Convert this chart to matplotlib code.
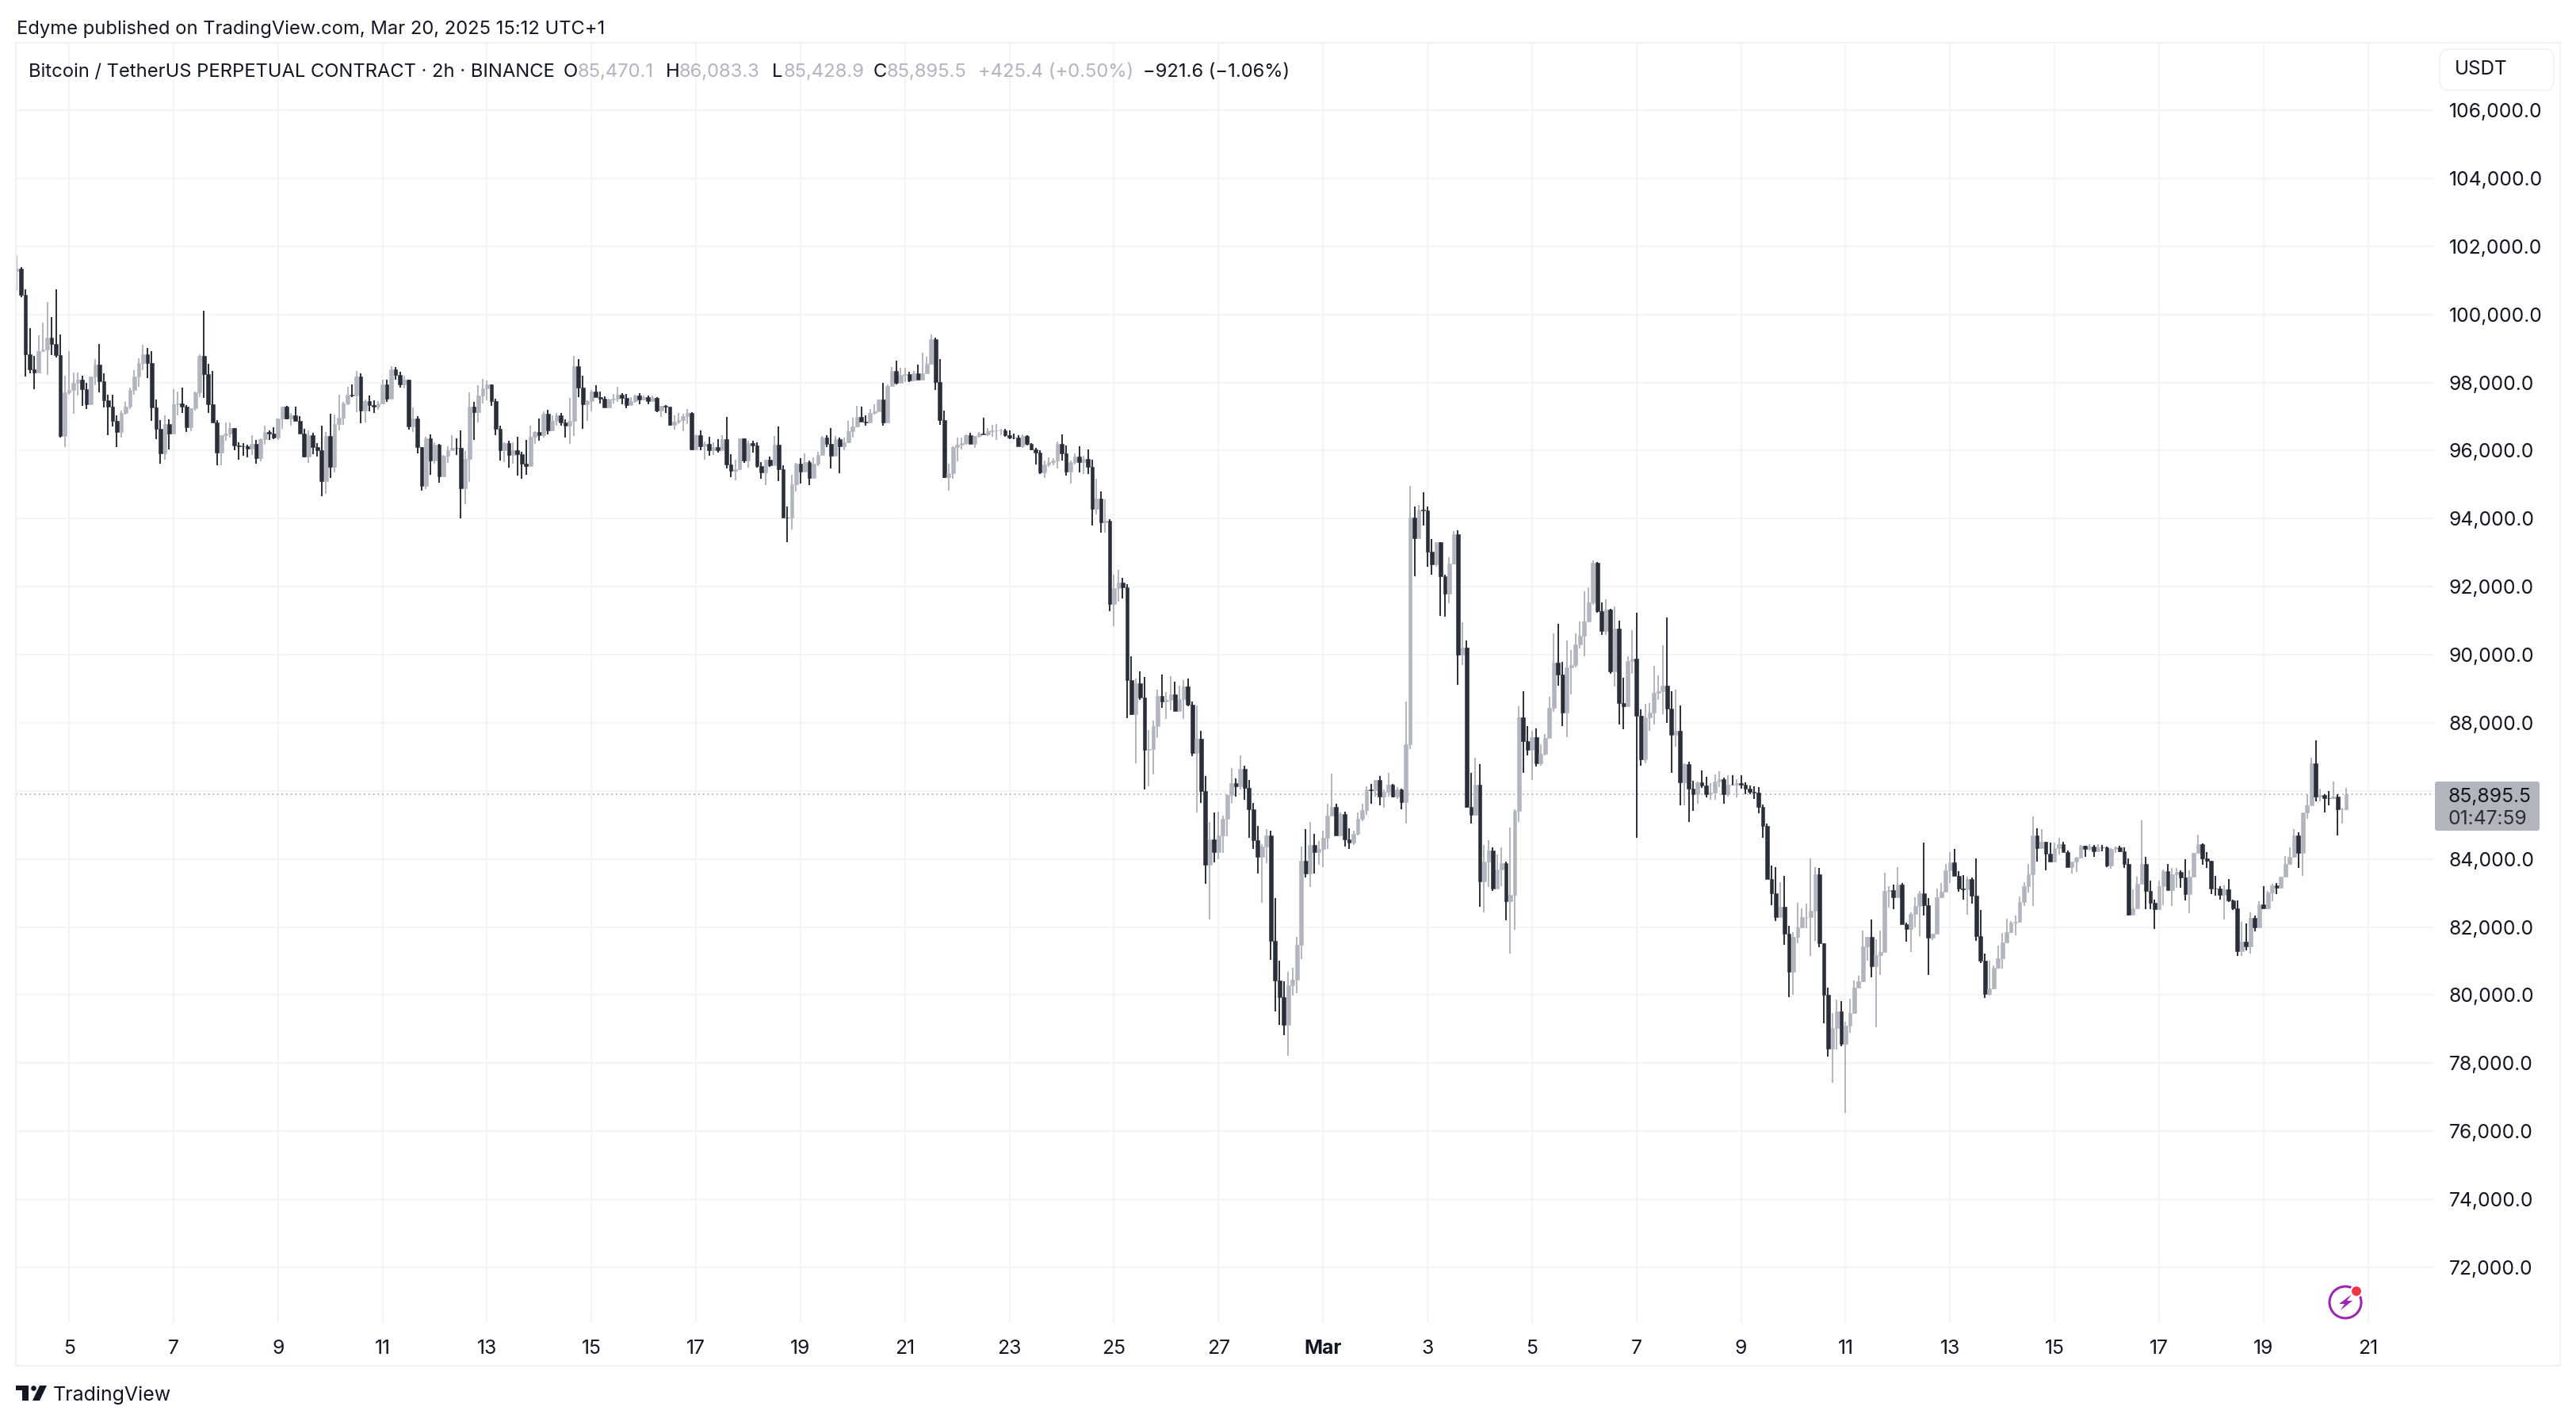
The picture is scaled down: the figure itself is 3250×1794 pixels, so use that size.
import numpy as np
import matplotlib
matplotlib.use('Agg')
import matplotlib.pyplot as plt
from matplotlib.patches import Rectangle, FancyBboxPatch, Circle, Polygon

plt.rcParams['font.family'] = ['Inter', 'DejaVu Sans']

# 2h candles, prices in thousands of USDT. Each open is the previous close.
first_open = 101.28
closes = [
    101.34,100.58,98.82,98.39,98.30,98.92,98.97,99.32,99.13,98.80,
    96.43,97.70,97.79,97.98,98.09,97.80,97.36,98.17,98.52,98.04,
    97.48,97.30,96.87,96.54,97.11,97.30,97.77,98.17,98.57,98.82,
    98.56,97.27,96.64,95.92,96.77,96.49,97.36,97.39,97.29,96.68,
    97.24,97.71,98.78,98.25,97.36,96.82,95.94,96.45,96.49,96.66,
    96.15,96.13,96.12,96.06,96.19,95.77,96.33,96.54,96.49,96.38,
    96.94,97.29,96.95,97.03,96.87,96.50,95.83,96.45,96.10,96.00,
    95.10,96.42,95.51,96.77,96.97,97.38,97.63,97.61,98.17,97.17,
    97.46,97.33,97.30,97.39,97.94,97.53,98.39,98.22,97.94,98.09,
    96.70,96.95,96.10,94.96,96.35,95.71,96.17,95.24,95.84,96.02,
    96.08,96.07,94.89,95.76,97.30,97.13,97.61,97.82,97.94,97.46,
    96.63,96.00,96.21,95.86,96.00,95.90,95.62,95.55,96.41,96.55,
    96.46,97.08,96.60,96.87,97.03,96.82,96.72,96.86,98.48,97.86,
    97.36,97.46,97.74,97.58,97.53,97.27,97.50,97.53,97.63,97.55,
    97.34,97.46,97.61,97.50,97.57,97.46,97.54,97.18,97.31,97.30,
    96.76,96.85,96.90,97.01,97.11,96.04,96.45,96.12,96.19,96.00,
    96.11,96.00,96.34,95.58,95.41,95.45,96.35,95.71,96.23,96.14,
    95.54,95.36,95.72,95.57,96.17,95.46,94.04,94.03,95.01,95.62,
    95.38,95.66,95.20,95.62,95.87,96.39,96.20,95.85,96.34,96.13,
    96.24,96.56,96.71,96.98,96.84,96.83,97.11,97.16,97.49,96.83,
    97.89,98.34,97.98,98.22,98.25,98.06,98.27,98.09,98.27,98.54,
    99.27,98.02,96.90,95.22,95.34,96.10,96.17,96.23,96.45,96.20,
    96.43,96.49,96.47,96.56,96.58,96.59,96.60,96.45,96.38,96.37,
    96.13,96.43,96.20,96.04,95.93,95.36,95.60,95.67,95.71,96.20,
    95.91,95.37,95.67,95.83,95.67,95.75,95.51,94.29,94.58,93.89,
    93.94,91.48,91.96,92.12,91.99,89.25,88.25,89.16,88.75,87.20,
    87.23,87.91,88.78,88.62,88.67,88.83,88.35,88.69,89.07,88.54,
    87.11,87.54,86.00,83.83,84.57,84.19,84.70,85.17,85.87,86.23,
    86.13,86.64,86.08,85.47,84.54,84.07,84.37,84.68,81.60,80.43,
    79.93,79.13,80.29,80.46,81.47,83.94,83.57,84.40,84.19,84.30,
    84.61,85.28,85.53,84.68,85.33,84.57,84.48,84.74,85.17,85.43,
    86.04,86.01,86.31,85.84,85.97,86.17,85.84,86.04,85.67,87.36,
    94.03,93.43,94.26,94.24,93.02,92.66,93.30,92.30,91.79,92.68,
    93.53,90.00,90.22,85.53,85.30,86.17,83.33,83.93,84.24,83.12,
    83.70,83.87,82.76,82.94,85.41,88.15,87.47,87.20,87.58,86.80,
    87.08,87.55,88.43,89.77,89.42,88.30,89.63,89.69,90.31,90.56,
    90.97,91.53,92.71,91.29,90.70,91.32,89.52,90.78,88.58,88.48,
    89.81,89.88,88.20,86.93,88.17,88.30,88.88,88.93,89.10,88.41,
    87.65,87.76,86.24,86.78,86.07,85.89,86.24,86.15,85.91,85.94,
    86.28,86.34,85.89,86.19,86.18,86.22,86.19,86.07,85.97,85.94,
    85.53,84.97,83.40,83.00,82.30,82.60,81.80,80.69,81.71,82.00,
    82.28,82.30,82.47,83.54,81.52,80.01,78.43,79.04,79.51,78.57,
    79.09,79.47,80.22,80.40,81.42,81.71,80.85,81.17,81.26,83.06,
    83.09,82.88,83.25,82.09,81.95,82.39,82.62,82.98,82.65,81.68,
    81.81,82.88,83.04,83.66,83.89,83.51,83.14,83.10,83.40,82.92,
    81.73,81.02,80.03,80.19,80.81,81.08,81.55,81.85,82.12,82.15,
    82.74,83.20,83.55,84.70,84.31,84.50,84.16,83.92,84.31,84.43,
    84.19,83.77,83.92,84.04,84.39,84.29,84.37,84.23,84.34,84.33,
    83.81,84.30,84.35,84.22,83.84,82.35,82.54,83.28,83.86,83.05,
    82.70,82.52,83.20,83.65,83.09,83.55,83.63,83.46,82.97,83.47,
    84.17,84.44,84.02,83.94,83.14,83.12,82.95,83.11,82.79,82.54,
    81.30,81.57,81.42,82.27,82.00,82.66,82.54,83.01,83.22,83.15,
    83.47,83.84,84.05,84.70,84.17,85.36,85.58,86.81,85.84,85.88,
    85.79,85.78,85.83,85.45,85.47,85.8955,
]
highs = [
    101.74,101.38,100.73,99.59,98.78,99.38,99.76,100.36,99.92,100.73,
    99.40,98.20,98.92,98.29,98.29,98.19,97.98,98.17,98.68,99.13,
    98.26,97.65,97.65,97.03,97.18,97.44,97.84,98.37,98.70,99.10,
    99.01,98.92,97.49,96.89,97.03,96.91,97.81,97.73,97.84,97.34,
    97.24,97.73,98.83,100.10,98.54,98.33,96.89,96.46,96.82,96.83,
    96.66,96.25,96.23,96.17,96.46,96.31,96.35,96.72,96.60,96.68,
    96.94,97.30,97.32,97.11,97.29,97.00,96.64,96.60,96.51,96.23,
    96.74,96.54,97.09,97.05,97.63,97.44,97.87,97.94,98.33,98.26,
    97.50,97.61,97.47,97.46,98.09,98.08,98.47,98.45,98.31,98.19,
    98.09,97.26,97.00,96.10,96.41,96.47,96.24,96.20,95.88,96.12,
    96.45,96.35,96.59,95.98,97.70,97.42,97.91,98.10,98.05,97.94,
    97.52,96.72,96.25,96.28,96.25,96.41,95.96,96.31,96.74,96.57,
    96.94,97.15,97.19,97.04,97.10,97.11,96.91,97.55,98.78,98.68,
    98.20,97.47,97.78,97.92,97.74,97.60,97.53,97.66,97.88,97.69,
    97.66,97.58,97.63,97.69,97.61,97.61,97.61,97.57,97.32,97.33,
    97.27,97.04,97.11,97.08,97.22,97.13,96.47,96.59,96.27,96.41,
    96.24,96.34,96.45,96.99,95.89,95.73,96.35,96.35,96.28,96.29,
    96.24,95.66,95.72,95.83,96.43,96.71,95.56,94.36,95.28,95.64,
    95.78,95.92,95.71,95.79,95.97,96.43,96.45,96.66,96.43,96.37,
    96.39,96.87,96.97,97.31,97.29,97.03,97.22,97.35,97.50,97.98,
    97.95,98.45,98.65,98.43,98.43,98.32,98.33,98.53,98.88,98.76,
    99.41,99.32,98.68,97.17,95.62,96.12,96.38,96.38,96.47,96.52,
    96.43,96.55,96.97,96.66,96.76,96.77,96.63,96.63,96.59,96.49,
    96.45,96.48,96.45,96.22,96.09,96.00,95.71,95.80,95.77,96.27,
    96.47,96.16,95.71,95.91,96.13,95.84,96.04,95.73,95.17,94.80,
    94.56,93.98,92.36,92.50,92.26,92.07,89.95,89.29,89.50,89.34,
    87.78,88.06,88.97,89.41,88.91,89.36,89.21,89.09,89.25,89.29,
    88.62,88.51,87.76,86.44,85.08,85.37,85.40,85.28,85.89,86.67,
    86.37,87.04,86.73,86.31,85.64,84.97,84.44,84.88,84.84,82.86,
    81.00,80.40,80.69,80.81,81.72,84.37,84.88,85.08,84.74,84.53,
    84.84,85.63,86.51,85.61,85.37,85.40,84.90,84.84,85.37,85.61,
    86.13,86.21,86.31,86.44,86.04,86.53,86.21,86.11,86.07,88.62,
    94.97,94.36,94.40,94.77,94.36,93.39,93.30,93.30,92.35,92.87,
    93.63,93.66,90.96,90.41,86.53,86.98,86.78,84.41,84.54,84.34,
    84.13,84.34,83.92,84.93,85.47,88.49,88.94,87.90,87.76,87.84,
    87.36,87.68,88.77,90.62,90.90,89.78,90.43,90.14,90.64,90.97,
    91.87,91.98,92.78,92.73,91.53,91.62,91.35,91.41,91.00,89.33,
    89.95,90.73,91.23,88.40,88.56,88.58,89.67,89.40,90.29,91.10,
    88.94,88.98,88.50,86.81,86.86,86.30,86.28,86.60,86.42,86.22,
    86.48,86.58,86.40,86.45,86.45,86.34,86.46,86.24,86.15,86.13,
    86.10,85.59,85.03,83.80,83.75,83.31,83.51,82.04,81.85,82.71,
    82.54,82.68,84.01,83.75,83.73,81.52,80.22,79.48,79.86,79.83,
    79.22,79.89,80.43,80.57,81.89,81.71,82.23,81.65,81.89,83.60,
    83.20,83.25,83.75,83.30,82.13,82.42,82.88,83.06,84.49,82.86,
    81.81,83.13,83.30,83.85,84.20,84.30,83.65,83.53,83.48,83.46,
    84.01,82.50,81.23,81.00,80.88,81.46,81.82,82.24,82.17,82.33,
    82.89,83.32,83.86,85.26,84.91,84.88,84.50,84.47,84.47,84.62,
    84.50,84.25,83.92,84.05,84.42,84.39,84.43,84.41,84.43,84.41,
    84.37,84.32,84.37,84.38,84.33,84.01,83.11,83.47,85.14,84.07,
    83.36,82.81,83.37,83.68,83.84,83.74,83.74,83.67,84.00,83.67,
    84.17,84.71,84.46,84.20,83.94,83.51,83.20,83.22,83.41,82.81,
    82.79,82.16,82.10,82.43,82.33,82.76,83.20,83.06,83.28,83.30,
    83.49,84.09,84.33,84.87,84.79,85.37,85.89,86.98,87.49,86.07,
    85.89,86.00,86.28,85.89,85.50,86.083,
]
lows = [
    100.68,100.50,98.18,98.27,97.80,98.29,98.93,98.22,98.80,98.74,
    96.37,96.10,97.64,97.08,97.61,97.32,97.22,97.34,97.92,97.71,
    97.26,96.45,96.70,96.10,96.38,97.05,97.22,97.64,97.87,98.36,
    98.13,96.87,96.33,95.62,95.72,96.03,96.49,97.03,97.11,96.54,
    96.56,97.18,97.57,97.55,97.11,96.82,95.57,95.57,96.29,96.37,
    96.00,95.73,95.85,95.80,95.86,95.62,95.68,96.17,96.31,96.33,
    96.31,96.64,96.91,96.73,96.86,96.50,95.79,95.63,95.90,95.83,
    94.66,94.72,95.19,95.36,96.60,96.76,97.34,97.57,97.13,96.80,
    96.82,97.15,97.11,97.20,97.36,97.43,97.53,98.08,97.85,97.83,
    96.62,96.54,95.92,94.82,94.87,95.28,95.62,95.06,95.23,95.63,
    96.00,95.86,94.00,94.43,95.07,96.31,96.83,97.38,97.48,97.32,
    96.45,95.70,95.66,95.50,95.62,95.27,95.16,95.29,95.54,96.20,
    96.30,96.39,96.48,96.57,96.73,96.74,96.39,96.20,96.43,97.58,
    96.63,96.86,97.16,97.58,97.39,97.27,97.25,97.39,97.42,97.36,
    97.25,97.33,97.40,97.36,97.48,97.36,97.44,97.13,96.99,97.11,
    96.72,96.62,96.78,96.56,96.78,96.00,96.00,96.00,95.73,95.85,
    95.87,95.94,96.00,95.48,95.22,95.13,95.44,95.64,95.50,95.94,
    95.50,95.17,94.99,95.51,95.57,95.11,94.04,93.31,93.69,94.80,
    95.02,95.38,94.99,95.20,95.54,95.87,96.10,95.48,95.85,95.34,
    96.00,96.23,96.37,96.69,96.84,96.74,96.79,97.05,97.15,96.74,
    96.83,97.89,97.95,97.98,98.02,98.02,98.06,98.09,98.09,98.26,
    98.53,97.79,96.76,95.20,94.82,95.17,95.69,96.04,96.18,96.20,
    96.08,96.37,96.47,96.43,96.41,96.31,96.45,96.41,96.34,96.33,
    96.13,96.08,96.16,96.00,95.60,95.30,95.20,95.53,95.57,95.47,
    95.71,95.26,95.04,95.60,95.36,95.30,95.30,93.79,94.13,93.59,
    93.59,91.29,90.85,91.56,91.66,88.14,88.22,86.82,88.67,86.04,
    86.13,86.48,87.55,88.45,88.11,88.38,88.35,88.35,88.11,88.49,
    87.02,85.37,85.64,83.27,82.23,83.90,84.00,84.17,84.66,85.64,
    85.84,86.04,85.73,84.61,84.30,83.57,82.70,83.87,81.03,79.53,
    79.13,78.81,78.22,79.99,80.06,81.05,83.46,83.17,83.57,83.83,
    83.77,84.30,85.28,84.68,84.68,84.37,84.30,84.40,84.70,85.10,
    85.30,85.61,85.84,85.57,85.50,85.84,85.81,85.77,85.47,85.04,
    87.24,92.30,93.43,93.80,92.59,92.36,92.59,91.15,91.11,91.52,
    92.66,89.11,89.69,85.50,85.04,85.30,82.60,82.43,83.17,83.07,
    83.12,83.20,82.20,81.21,81.91,85.09,86.53,87.04,86.33,86.71,
    86.75,87.04,87.55,88.33,89.09,87.91,87.57,88.83,89.63,90.19,
    89.95,90.96,91.47,91.23,90.58,90.58,89.43,89.07,87.94,87.81,
    88.48,89.45,84.62,86.74,86.81,87.76,87.94,88.68,88.26,88.00,
    86.54,87.31,85.57,85.57,85.09,85.41,85.63,86.09,85.80,85.73,
    85.73,86.12,85.63,85.83,86.18,85.80,86.07,85.91,85.89,85.75,
    85.34,84.62,83.40,82.65,82.18,82.30,81.47,79.93,80.01,81.52,
    81.97,81.97,81.14,81.59,81.41,79.18,78.19,77.43,78.41,78.50,
    76.55,78.90,79.45,80.21,80.38,81.00,80.52,79.06,80.60,81.26,
    82.56,82.52,82.88,82.09,81.58,81.26,81.98,81.73,82.33,80.58,
    81.61,81.81,82.86,83.04,83.30,83.51,83.04,82.81,82.35,82.68,
    81.59,80.94,79.91,79.98,80.17,80.77,80.77,81.55,81.83,81.76,
    82.13,82.62,83.01,82.62,83.92,84.31,83.66,83.92,83.92,84.12,
    84.19,83.77,83.57,83.63,84.03,84.07,84.25,84.07,84.23,84.23,
    83.77,83.71,84.17,84.21,83.74,82.33,82.35,82.54,83.28,82.52,
    82.52,81.94,82.50,82.64,83.09,82.62,83.16,83.15,82.78,82.41,
    83.47,84.15,83.82,83.74,82.97,82.93,82.80,82.22,82.74,82.50,
    81.15,81.15,81.32,81.23,81.88,81.98,82.54,82.53,82.76,82.97,
    83.15,83.46,83.83,84.05,83.73,83.51,85.18,85.57,85.69,85.69,
    85.37,85.58,85.76,84.69,85.03,85.429,
]

day_labels = ['5', '7', '9', '11', '13', '15', '17', '19', '21', '23', '25', '27', 'Mar',
              '3', '5', '7', '9', '11', '13', '15', '17', '19', '21']
price_ticks = list(range(72000, 108000, 2000))
last_price = 85895.5
countdown = '01:47:59'

DARK = '#2a2e39'
GREY = '#b2b5be'
GRID = '#f3f4f6'
TEXT = '#131722'
W, H = 3250, 1794

closes = np.array(closes) * 1000
highs = np.array(highs) * 1000
lows = np.array(lows) * 1000
opens = np.concatenate([[first_open * 1000], closes[:-1]])
x = np.arange(len(closes))
colors = [GREY if c >= o else DARK for o, c in zip(opens, closes)]

fig = plt.figure(figsize=(W / 100, H / 100), dpi=100, facecolor='white')

# main pane, pixel box 20..3070 x 54..1668
ax = fig.add_axes([20 / W, 1 - 1668 / H, 3050 / W, 1614 / H])
ax.set_xlim(-0.2, 555)
ax.set_ylim(70390, 107980)
for s in ax.spines.values():
    s.set_visible(False)

day_x = [12 + 24 * i for i in range(len(day_labels))]
ax.set_xticks(day_x)
ax.set_xticklabels(day_labels, fontsize=17.8, color=TEXT)
for lab in ax.get_xticklabels():
    if lab.get_text() == 'Mar':
        lab.set_fontweight('bold')
ax.yaxis.tick_right()
ax.set_yticks(price_ticks)
ax.set_yticklabels([f'{p:,.1f}' for p in price_ticks], fontsize=17.8, color=TEXT)
ax.tick_params(axis='both', length=0)
ax.tick_params(axis='x', pad=16)
ax.tick_params(axis='y', pad=14)
ax.grid(color=GRID, linewidth=1.5)
ax.set_axisbelow(True)

ax.axhline(last_price, color=GREY, linewidth=1.3, linestyle=(0, (1, 2.2)), zorder=1)
ax.vlines(x, lows, highs, colors=colors, linewidth=1.4, zorder=2)
ax.bar(x, closes - opens, bottom=opens, width=0.86, color=colors, edgecolor=colors,
       linewidth=0.4, zorder=3)

# overlay in pixel coordinates for frame, header and badges
ov = fig.add_axes([0, 0, 1, 1], facecolor='none')
ov.set_xlim(0, W)
ov.set_ylim(H, 0)
ov.axis('off')

ov.add_patch(Rectangle((20, 54), 3210, 1669, fill=False, edgecolor='#f0f1f4', linewidth=1.5))

ov.text(21, 37, 'Edyme published on TradingView.com, Mar 20, 2025 15:12 UTC+1', fontsize=17.1,
        color=TEXT, va='center')

legend_parts = [
    (36, 'Bitcoin / TetherUS PERPETUAL CONTRACT · 2h · BINANCE', TEXT),
    (711, 'O', TEXT), (729, '85,470.1', GREY),
    (840, 'H', TEXT), (857, '86,083.3', GREY),
    (974, 'L', TEXT), (989, '85,428.9', GREY),
    (1102, 'C', TEXT), (1119, '85,895.5', GREY),
    (1234, '+425.4 (+0.50%)', GREY),
    (1442, '−921.6 (−1.06%)', TEXT),
]
for px, txt, col in legend_parts:
    ov.text(px, 91, txt, fontsize=17.1, color=col, va='center')

# unit box
ov.add_patch(FancyBboxPatch((3084, 68), 132, 40, boxstyle='round,pad=6,rounding_size=12',
                            facecolor='white', edgecolor='#f0f1f4', linewidth=1.2, zorder=4))
ov.text(3097, 88, 'USDT', fontsize=17.5, color=TEXT, va='center', zorder=5)

# last price badge
ov.add_patch(FancyBboxPatch((3074, 988), 128, 58, boxstyle='round,pad=2,rounding_size=3',
                            facecolor=GREY, edgecolor='none', zorder=4))
ov.text(3088, 1005, f'{last_price:,.1f}', fontsize=17.8, color=TEXT, va='center', zorder=5)
ov.text(3088, 1033, countdown, fontsize=17.8, color=DARK, va='center', zorder=5)

# purple badge near the last gridline
ov.add_patch(Circle((2959, 1643), 20, fill=False, edgecolor='#9c27b0', linewidth=2.2, zorder=4))
ov.add_patch(Polygon([(2967, 1633), (2951, 1645), (2958, 1645), (2953, 1653),
                      (2968, 1641), (2961, 1641)], closed=True, facecolor='#9c27b0',
                     edgecolor='none', zorder=5))
ov.add_patch(Circle((2973, 1629), 7, facecolor='#f23645', edgecolor='white', linewidth=1.5, zorder=6))

# footer logo
ov.add_patch(Polygon([(20, 1748), (36, 1748), (36, 1767), (28, 1767), (28, 1754), (20, 1754)],
                     closed=True, facecolor=TEXT, edgecolor='none'))
ov.add_patch(Circle((42.5, 1751.5), 3.3, facecolor=TEXT, edgecolor='none'))
ov.add_patch(Polygon([(50, 1748), (59, 1748), (50, 1767), (41, 1767)], closed=True,
                     facecolor=TEXT, edgecolor='none'))
ov.text(67, 1760, 'TradingView', fontsize=18, color=TEXT, va='center')

fig.savefig('out.png', dpi=100)
